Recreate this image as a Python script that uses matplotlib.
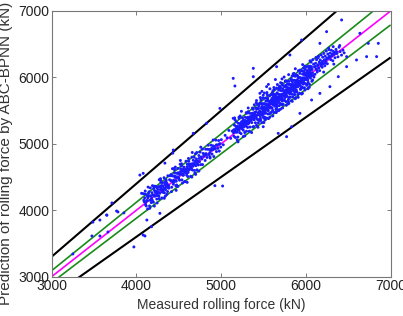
import matplotlib
matplotlib.use("Agg")
import matplotlib.pyplot as plt
import numpy as np

plt.rcParams['font.family'] = ['Liberation Sans', 'DejaVu Sans']

x_ticks = [3000, 4000, 5000, 6000, 7000]
y_ticks = [3000, 4000, 5000, 6000, 7000]
ref_range = [3000, 7000]
# bound lines y = k * x  (+-10 %, +-3 %, 1:1)
bound_factors = [1.10, 1.03, 1.00, 0.97, 0.90]
bound_colors = ['black', '#1a8a1a', '#ff00ff', '#1a8a1a', 'black']
bound_widths = [1.5, 1.2, 1.2, 1.2, 1.5]

cluster_a = [(4093,4130),(4117,4065),(4102,4247),(4131,4144),(4088,4152),(4156,4065),(4143,4251),(4172,4220),(4109,4082),(4165,4336),
(4188,4152),(4127,4219),(4201,4122),(4214,4297),(4179,4184),(4236,4355),(4193,4129),(4225,4266),(4248,4220),(4207,4363),
(4262,4219),(4239,4250),(4271,4173),(4254,4313),(4289,4421),(4277,4256),(4302,4185),(4296,4372),(4318,4309),(4283,4310),
(4331,4263),(4309,4413),(4344,4309),(4327,4490),(4356,4377),(4339,4387),(4368,4282),(4352,4442),(4381,4367),(4373,4376),
(4392,4459),(4386,4335),(4398,4519),(4122,4146),(4147,4213),(4163,4151),(4185,4264),(4197,4228),(4219,4211),(4230,4287),
(4244,4340),(4258,4273),(4266,4210),(4281,4351),(4293,4329),(4305,4276),(4314,4366),(4323,4335),(4335,4420),(4347,4344),
(4361,4405),(4376,4336),(4099,4187),(4111,4116),(4136,4187),(4151,4279),(4176,4116),(4208,4228),(4223,4361),(4241,4169),
(4268,4357),(4299,4307),(4321,4269),(4349,4462),(4364,4390),(4080,4250),(4139,4349),(4213,4063),(4285,4475),(4342,4212)]

cluster_b = [(4403,4452),(4418,4347),(4409,4537),(4426,4432),(4437,4393),(4431,4518),(4449,4612),(4444,4426),(4458,4513),(4466,4369),
(4452,4561),(4475,4489),(4488,4629),(4471,4438),(4493,4565),(4482,4360),(4506,4544),(4499,4491),(4517,4693),(4511,4452),
(4529,4551),(4523,4620),(4538,4457),(4546,4549),(4532,4666),(4557,4530),(4551,4617),(4569,4431),(4563,4609),(4578,4567),
(4586,4738),(4574,4603),(4594,4528),(4602,4693),(4589,4601),(4611,4569),(4619,4737),(4607,4508),(4627,4660),(4635,4618),
(4623,4694),(4641,4512),(4648,4657),(4656,4800),(4644,4695),(4663,4605),(4671,4753),(4668,4662),(4679,4705),(4687,4599),
(4683,4798),(4695,4737),(4702,4671),(4709,4772),(4716,4609),(4712,4870),(4724,4741),(4731,4682),(4738,4824),(4745,4731),
(4752,4876),(4759,4687),(4766,4801),(4773,4773),(4781,4688),(4788,4856),(4794,4815),(4412,4442),(4421,4519),(4439,4452),
(4455,4496),(4463,4443),(4478,4556),(4486,4504),(4497,4555),(4503,4466),(4514,4541),(4521,4582),(4535,4542),(4542,4591),
(4549,4527),(4561,4649),(4566,4582),(4581,4619),(4592,4596),(4598,4655),(4606,4626),(4616,4602),(4631,4677),(4639,4661),
(4652,4622),(4660,4700),(4676,4688),(4691,4689),(4706,4733),(4721,4701),(4741,4780),(4426,4626),(4470,4300),(4520,4750),
(4600,4420),(4660,4870),(4700,4540),(4760,4950)]

cluster_c = [(4803,4844),(4812,4750),(4818,4920),(4826,4834),(4834,4795),(4841,4918),(4849,4979),(4857,4839),(4862,4915),(4871,4787),
(4878,4902),(4884,4980),(4893,4846),(4899,4911),(4908,4969),(4914,4809),(4922,4957),(4931,4922),(4938,5056),(4946,4883),
(4953,4981),(4962,4932),(4971,5050),(4979,4891),(4988,5003),(4996,4951),(4823,4853),(4867,4867),(4889,4934),(4917,4927),
(4944,4984),(4975,4995),(5003,5063),(5026,4986),(5048,5128),(5071,5091),(5092,5202),(5113,5083),(5131,5191)]

cluster_d = [(5143,5201),(5151,5114),(5158,5282),(5164,5185),(5169,5095),(5175,5262),(5181,5330),(5186,5174),(5192,5237),(5198,5102),
(5203,5309),(5209,5242),(5214,5385),(5219,5170),(5224,5288),(5231,5243),(5236,5153),(5242,5334),(5247,5226),(5253,5390),
(5258,5263),(5263,5205),(5269,5345),(5274,5302),(5279,5170),(5285,5400),(5291,5332),(5296,5266),(5302,5460),(5307,5317),
(5313,5247),(5318,5401),(5324,5361),(5329,5314),(5335,5461),(5341,5253),(5346,5400),(5352,5354),(5357,5456),(5363,5320),
(5368,5435),(5374,5254),(5379,5520),(5385,5409),(5390,5363),(5396,5474),(5147,5167),(5155,5215),(5166,5201),(5172,5180),
(5178,5227),(5189,5262),(5195,5213),(5206,5258),(5212,5206),(5217,5256),(5228,5309),(5233,5257),(5239,5286),(5245,5254),
(5250,5311),(5256,5288),(5261,5355),(5267,5253),(5272,5327),(5277,5299),(5283,5353),(5288,5285),(5294,5338),(5299,5315),
(5305,5389),(5311,5341),(5316,5298),(5321,5378),(5327,5342),(5332,5378),(5338,5341),(5344,5410),(5349,5377),(5355,5406),
(5360,5371),(5366,5401),(5371,5461),(5377,5383),(5382,5430),(5388,5366),(5393,5424),(5160,5390),(5200,5030),(5240,5490),
(5280,5120),(5320,5540),(5360,5170)]

cluster_e = [(5402,5445),(5405,5317),(5409,5536),(5411,5396),(5414,5485),(5418,5279),(5421,5427),(5423,5525),(5427,5375),(5430,5598),
(5433,5362),(5436,5461),(5439,5316),(5441,5529),(5445,5441),(5448,5591),(5450,5353),(5454,5492),(5457,5426),(5459,5614),
(5463,5384),(5466,5480),(5468,5357),(5472,5534),(5475,5606),(5478,5434),(5481,5319),(5483,5562),(5487,5465),(5490,5519),
(5492,5401),(5496,5604),(5499,5442),(5502,5688),(5505,5494),(5508,5559),(5511,5382),(5513,5606),(5517,5480),(5520,5521),
(5523,5597),(5526,5460),(5528,5645),(5532,5524),(5535,5592),(5537,5389),(5541,5576),(5544,5642),(5547,5522),(5550,5689),
(5553,5450),(5556,5574),(5558,5497),(5562,5646),(5565,5575),(5568,5451),(5571,5637),(5573,5723),(5577,5538),(5580,5627),
(5583,5630),(5586,5547),(5589,5739),(5591,5657),(5594,5477),(5597,5607),(5600,5684),(5602,5541),(5605,5623),(5608,5505),
(5611,5750),(5613,5588),(5616,5714),(5619,5654),(5622,5474),(5624,5681),(5627,5619),(5630,5747),(5633,5567),(5635,5709),
(5638,5639),(5641,5604),(5644,5737),(5646,5517),(5649,5700),(5652,5641),(5655,5841),(5657,5600),(5660,5768),(5663,5572),
(5666,5695),(5668,5646),(5671,5750),(5674,5512),(5677,5633),(5679,5810),(5682,5744),(5685,5574),(5688,5702),(5690,5611),
(5693,5848),(5696,5665),(5699,5737),(5701,5604),(5704,5847),(5707,5703),(5710,5798),(5712,5589),(5715,5740),(5718,5647),
(5721,5889),(5723,5671),(5726,5828),(5729,5735),(5732,5593),(5734,5805),(5737,5722),(5740,5867),(5743,5655),(5745,5788),
(5748,5657),(5751,5859),(5754,5697),(5757,5943),(5759,5748),(5762,5813),(5765,5636),(5768,5861),(5771,5734),(5773,5774),
(5776,5850),(5779,5713),(5782,5899),(5785,5777),(5787,5844),(5790,5642),(5793,5828),(5796,5894),(5799,5774),(5801,5940),
(5804,5701),(5807,5825),(5810,5749),(5813,5897),(5815,5825),(5818,5701),(5821,5887),(5824,5974),(5827,5788),(5829,5876),
(5832,5875),(5835,5747),(5838,5965),(5841,5826),(5843,5914),(5846,5707),(5849,5855),(5852,5954),(5855,5803),(5857,6025),
(5860,5789),(5863,5888),(5866,5743),(5869,5957),(5871,5867),(5874,6017),(5877,5780),(5880,5918),(5883,5852),(5885,6040),
(5888,5809),(5891,5905),(5894,5783),(5897,5959),(5899,6030),(5902,5858),(5905,5743),(5908,5987),(5911,5889),(5913,5942),
(5916,5945),(5919,5897),(5922,6001),(5925,5763),(5927,5883),(5930,6061),(5933,5995),(5936,5825),(5939,5953),(5941,5862),
(5944,6099),(5947,5916),(5950,5988),(5953,5856),(5956,6099),(5958,5954),(5961,6049),(5964,5841),(5967,5992),(5970,5899),
(5973,6141),(5975,5923),(5978,6080),(5981,5987),(5984,5845),(5987,6058),(5990,5975),(5993,6120),(5995,5907),(5998,6041),
(6001,6048),(6004,5965),(6007,6157),(6010,6076),(6013,5896),(6016,6026),(6019,6103),(6022,5961),(6025,6043),(6028,5925),
(6031,6170),(6034,6009),(6037,6135),(6040,6075),(6043,5895),(6046,6103),(6049,6041),(6052,6169),(6055,5989),(6058,6132),
(6061,6062),(6064,6027),(6067,6160),(6071,5942),(6074,6125),(6078,6067),(6082,6268),(6086,6029),(6091,6199),(6096,6005)]

core_e = [(5452,5474),(5463,5432),(5471,5479),(5486,5533),(5494,5482),(5507,5542),(5515,5471),(5528,5543),(5533,5535),(5546,5521),
(5559,5600),(5564,5558),(5578,5606),(5586,5548),(5597,5608),(5603,5653),(5618,5599),(5624,5657),(5637,5635),(5645,5598),
(5652,5671),(5666,5704),(5671,5643),(5684,5689),(5693,5737),(5701,5686),(5715,5741),(5722,5687),(5733,5746),(5741,5772),
(5756,5747),(5762,5721),(5774,5798),(5781,5788),(5795,5773),(5803,5842),(5811,5778),(5826,5843),(5834,5882),(5842,5838),
(5853,5875),(5858,5827),(5872,5880),(5879,5926),(5886,5874),(5898,5933),(5906,5862),(5914,5929),(5923,5925),(5931,5906),
(5945,5986),(5952,5946),(5960,5988),(5968,5930),(5979,5990),(5985,6035),(5996,5977),(6003,6036),(6012,6010),(6020,5973),
(6033,6052),(6039,6077),(6048,6020),(6057,6062),(6065,6109),(5612,5597),(5658,5684),(5709,5674),(5749,5762),(5789,5820),
(5818,5809),(5867,5826),(5892,5916),(5937,5944),(5974,5952),(6015,6054),(5540,5507),(5590,5607),(5630,5678),(5677,5673),
(5425,5540),(5456,5350),(5485,5600),(5515,5400),(5548,5670),(5582,5460),(5618,5740),(5655,5540),(5690,5810),(5728,5600),
(5760,5880),(5795,5670),(5832,5950),(5866,5740),(5903,6020),(5938,5820),(5976,6090),(6011,5880),(6045,6150),(6080,5960)]

spread_e = [(5418,5652),(5463,5697),(5497,5731),(5541,5772),(5576,5829),(5623,5848),(5664,5893),(5702,5921),(5482,5790),(5558,5895),
(5641,5968),(5744,6006),(5797,6042),(5876,6131),(5962,6193),(5719,5978),(5604,5771),(5447,5566),(5528,5689),(5683,5826),
(5392,5588),(5511,5765),(5777,5940),(5850,6053),(5930,6110),(5520,5360),(5610,5420),(5700,5520),(5790,5600),(5880,5690),
(5960,5760),(6040,5850),(5650,5480),(5840,5640),(5415,5620),(5435,5250),(5470,5660),(5505,5320),(5545,5740),(5575,5400),
(5612,5800),(5650,5470),(5688,5870),(5725,5540),(5763,5950),(5800,5610),(5838,6020),(5875,5680),(5912,6100),(5950,5750),
(5988,6170),(6025,5830),(6062,6230),(5490,5690),(5630,5820),(5770,5580),(5910,5700),(6050,6250),(5560,5380),(5720,5910),
(5860,6060),(5990,5810),(5680,5500),(5830,5650)]

spread_low = [(4105,4290),(4158,4030),(4190,4370),(4245,4110),(4287,4450),(4330,4180),(4372,4520),(4415,4280),(4447,4630),(4490,4360),
(4533,4700),(4575,4430),(4615,4780),(4655,4500),(4697,4850),(4738,4590),(4780,4920),(4133,4020),(4270,4460),(4460,4650),
(4545,4410),(4690,4560),(4360,4240),(4205,4330),(5165,5360),(5190,5060),(5225,5420),(5262,5110),(5297,5470),(5333,5190),
(5370,5540),(5211,5400),(5300,5190),(5385,5260)]

cluster_f = [(6102,6158),(6108,6047),(6115,6213),(6121,6129),(6127,6266),(6134,6081),(6139,6176),(6146,6297),(6152,6140),(6158,6229),
(6163,6102),(6170,6262),(6176,6189),(6181,6338),(6188,6215),(6193,6153),(6199,6304),(6206,6207),(6212,6361),(6217,6257),
(6224,6175),(6229,6319),(6236,6244),(6241,6397),(6248,6283),(6254,6206),(6259,6352),(6266,6293),(6271,6419),(6279,6301),
(6286,6366),(6293,6268),(6301,6409),(6309,6327),(6318,6251),(6326,6390),(6335,6348),(6344,6296),(6356,6422),(6367,6360),
(6379,6310),(6392,6455),(6405,6389),(6421,6336),(6438,6410),(6452,6370),(6112,6165),(6143,6190),(6167,6211),(6196,6240),
(6221,6266),(6251,6290),(6276,6318),(6311,6352),(6340,6372),(6131,6108),(6186,6170),(6232,6214),(6288,6313),(6362,6389),
(6150,6320),(6210,6080),(6270,6440),(6330,6200),(6400,6480),(6120,6300)]

outliers = [(3251,3342),(3476,3613),(3487,3821),(3570,3613),(3570,3853),(3649,3928),(3653,3926),(3665,3673),(3712,4110),(3767,3989),
(3783,3975),(3853,3960),(3971,3448),(4042,4530),(4062,4255),(4081,4556),(4081,3627),(4102,3613),(4124,3853),(4180,3753),
(4278,3954),(4337,4710),(4430,4860),(4436,4907),(4475,4380),(4593,4556),(4927,4370),(5018,4365),(4868,4807),(4907,5058),
(5143,5384),(5163,5871),(5320,5484),(5458,5761),(5380,6011),(5537,5861),(5497,5258),(5674,5158),(5773,5108),(5832,5258),
(5930,5459),(6068,5660),(6166,5760),(6284,5861),(6383,6011),(6481,6162),(6481,6313),(6323,6463),(6598,6263),(6717,6313),
(6835,6313),(6855,6513),(6737,6513),(6638,6664),(6422,6865),(6245,6689),(6166,6513),(5950,6563),(5812,6338),(5655,6162),
(5380,6137),(5143,5986),(4986,5534),(4829,5309),(4672,5158)]

groups = [cluster_a, cluster_b, cluster_c, cluster_d, cluster_e, core_e, spread_e, spread_low, cluster_f, outliers]
pts = np.array([p for g in groups for p in g], dtype=float)
measured = pts[:, 0]
predicted = pts[:, 1]

fig = plt.figure(figsize=(4.03, 3.16), dpi=100)
ax = fig.add_axes([0.128, 0.1244, 0.8412, 0.8408])

xr = np.array(ref_range, dtype=float)
for k, c, w in zip(bound_factors, bound_colors, bound_widths):
    ax.plot(xr, k * xr, color=c, lw=w, zorder=2, solid_capstyle='butt')

ax.scatter(measured, predicted, s=4.5, c='#1a1aff', edgecolors='none', zorder=3)

ax.set_xlim(3000, 7000)
ax.set_ylim(3000, 7000)
ax.set_xticks(x_ticks)
ax.set_yticks(y_ticks)
ax.tick_params(direction='in', length=3, width=0.6, color='#666666',
               top=True, right=True, labelsize=10, labelcolor='#222222')
ax.tick_params(axis='x', pad=2)
ax.tick_params(axis='y', pad=1.5)
for s in ax.spines.values():
    s.set_color('#777777')
    s.set_linewidth(0.8)

ax.set_xlabel('Measured rolling force (kN)', fontsize=10, color='#333333')
ax.xaxis.set_label_coords(0.5, -0.105)
ax.xaxis.label.set_va('center')
fig.text(0.016, 0.515, 'Prediction of rolling force by ABC-BPNN (kN)', rotation=90,
         ha='center', va='center', fontsize=11, color='#333333')

fig.savefig('out.png', dpi=100)
